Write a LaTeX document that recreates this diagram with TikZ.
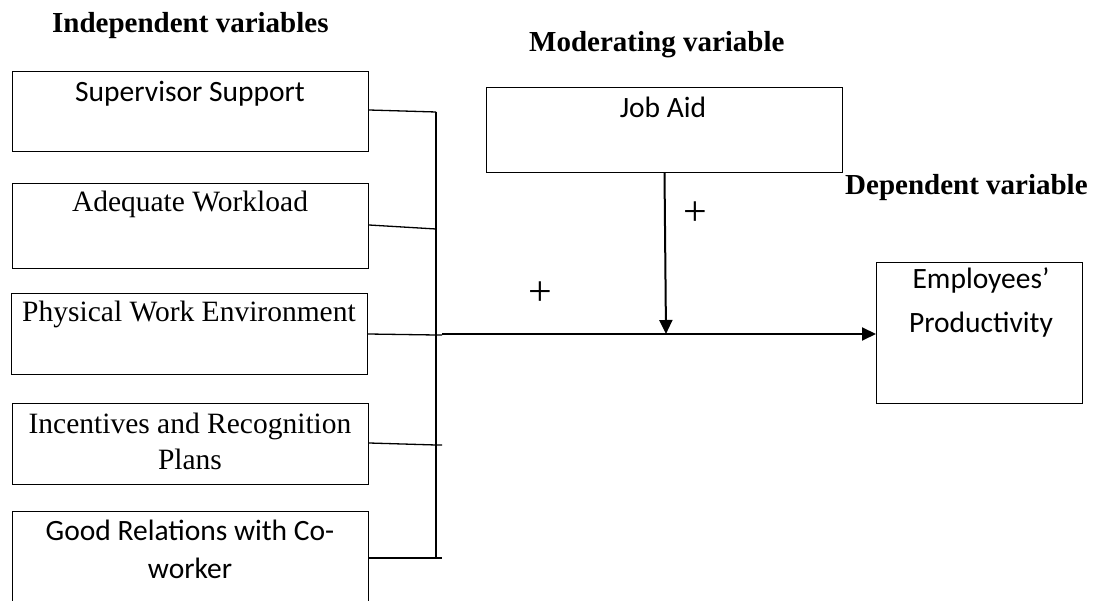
\documentclass[tikz,border=0pt]{standalone}
\usepackage{fontspec}
\setmainfont{Liberation Serif}
\newfontfamily\carlitofont{Carlito}
\usetikzlibrary{arrows.meta}
\begin{document}
\begin{tikzpicture}[x=1pt,y=-1pt,
  box/.style={draw, line width=1pt, anchor=north west, inner sep=0pt, minimum width=356pt},
  lbl/.style={inner sep=0pt, anchor=base, align=center, font=\fontsize{29.5}{36}\selectfont},
  clbl/.style={inner sep=0pt, anchor=base, align=center, font=\carlitofont\fontsize{29.5}{38}\selectfont},
  head/.style={inner sep=0pt, anchor=base west, font=\bfseries\fontsize{29}{33}\selectfont},
  plus/.style={inner sep=0pt, anchor=base, font=\fontsize{42}{42}\selectfont},
  conn/.style={line width=1.3pt},
  mainarrow/.style={line width=2pt, -{Triangle[length=14pt,width=13pt]}}]
\useasboundingbox (0,0) rectangle (1095,601);
% headings
\node[head] (h1) at (52,33) {Independent variables};
\node[head] (h2) at (529,52) {Moderating variable};
\node[head] (h3) at (845,195) {Dependent variable};
% independent boxes
\node[box, minimum height=80pt] (b1) at (12,71) {};
\node[box, minimum height=85pt] (b2) at (12,183) {};
\node[box, minimum height=81pt] (b3) at (11,293) {};
\node[box, minimum height=81pt] (b4) at (12,403) {};
\node[box, minimum height=100pt] (b5) at (12,511) {};
\node[clbl] (t1) at (190,102) {Supervisor Support};
\node[lbl] (t2) at (190,212) {Adequate Workload};
\node[lbl] (t3) at (189,322) {Physical Work Environment};
% multi-line nodes: base anchor is the last line's baseline
\node[lbl] (t4) at (190,469) {Incentives and Recognition\\Plans};
\node[clbl] (t5) at (190,578) {Good Relations with Co-\\worker};
% moderating box
\node[box, minimum height=85pt] (ja) at (486,87) {};
\node[clbl] (tja) at (663,118) {Job Aid};
% dependent box
\node[box, minimum width=206pt, minimum height=141pt] (emp) at (876,262) {};
\node[clbl, font=\carlitofont\fontsize{29.5}{44}\selectfont] (temp) at (981,333) {Employees’\\Productivity};
% bus
\coordinate (u1) at (436,112);
\coordinate (u2) at (436,229);
\coordinate (u3) at (436,335);
\coordinate (u4) at (436,445);
\coordinate (u5) at (436,558);
\coordinate (w3) at (442,335);
\coordinate (w4) at (442,445);
\coordinate (w5) at (442,558);
\coordinate (mstart) at (442,334);
\coordinate (jend) at (666,334);
\draw[conn] (u1) -- (u5);
\draw[conn] (b1.east |- 0,110) -- (u1);
\draw[conn] (b2.east |- 0,225) -- (u2);
\draw[conn] (b3.east |- 0,334) -- (u3) -- (w3);
\draw[conn] (b4.east |- 0,443) -- (u4) -- (w4);
\draw[conn] (b5.east |- 0,558) -- (u5) -- (w5);
\draw[mainarrow] (mstart) -- (emp.west |- mstart);
\draw[mainarrow] (ja.south) -- (jend);
% plus signs
\node[plus] (p1) at (695.5,225.5) {+};
\node[plus] (p2) at (540,305.5) {+};
\end{tikzpicture}
\end{document}
